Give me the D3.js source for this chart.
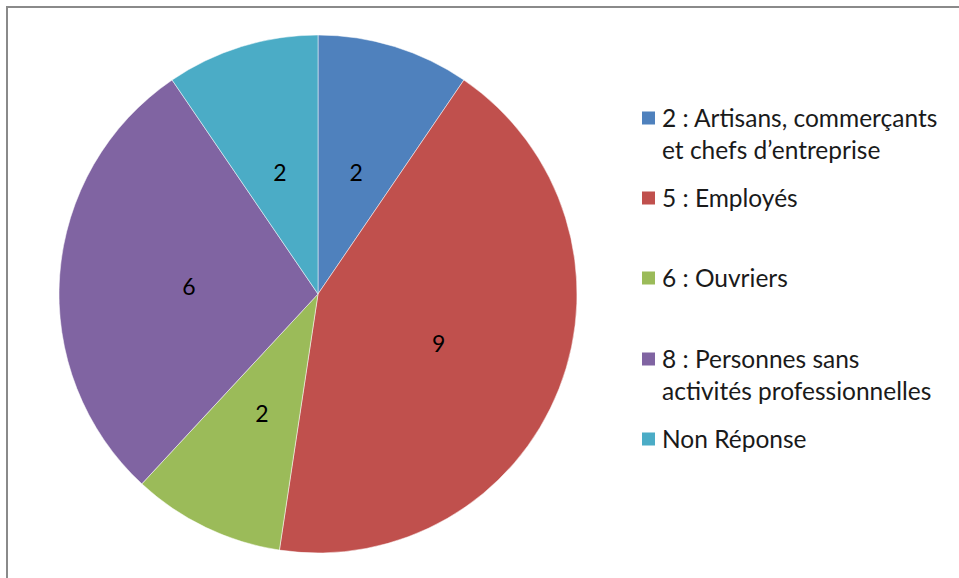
<!DOCTYPE html>
<html><head><meta charset="utf-8">
<script src="https://cdn.jsdelivr.net/npm/d3@7"></script>
<style>body{margin:0;background:#fff}svg{display:block}</style>
</head><body>
<svg id="c" width="959" height="578"></svg>
<script>
const categories = ["2 : Artisans, commerçants et chefs d\u2019entreprise", "5 : Employés", "6 : Ouvriers", "8 : Personnes sans activités professionnelles", "Non Réponse"];
const legendLines = [["2 : Artisans, commerçants", "et chefs d\u2019entreprise"], ["5 : Employés"], ["6 : Ouvriers"], ["8 : Personnes sans", "activités professionnelles"], ["Non Réponse"]];
const values = [2, 9, 2, 6, 2];
const colors = ["#4F81BD", "#C0504D", "#9BBB59", "#8064A2", "#4BACC6"];

const svg = d3.select("#c");
const font = "Lato, 'Open Sans', sans-serif";

// frame
svg.append("path").attr("d", "M7,578 V7 H959").attr("fill", "none").attr("stroke", "#8a8a8a").attr("stroke-width", 2);

const cx = 318, cy = 294, r = 259;
const pie = d3.pie().sort(null).value(d => d)(values);
const arc = d3.arc().innerRadius(0).outerRadius(r);
const g = svg.append("g").attr("transform", `translate(${cx},${cy})`);
g.selectAll("path").data(pie).join("path")
  .attr("d", arc).attr("fill", (d, i) => colors[i])
  .attr("stroke", "#fff").attr("stroke-width", 0.5);
g.selectAll("text").data(pie).join("text")
  .attr("transform", d => `translate(${arc.centroid(d)})`)
  .attr("text-anchor", "middle").attr("dy", "0.48em")
  .attr("font-family", font).attr("font-size", 23).attr("fill", "#000")
  .text(d => d.data);

// legend
const rowY = [118, 198, 278, 359, 439];
const lg = svg.append("g");
legendLines.forEach((lines, i) => {
  lg.append("rect").attr("x", 642).attr("y", rowY[i] - 6.5).attr("width", 13).attr("height", 13).attr("fill", colors[i]);
  lines.forEach((t, j) => {
    lg.append("text").attr("x", 662).attr("y", rowY[i] + j * 32).attr("dy", "0.35em")
      .attr("font-family", font).attr("font-size", 24.5).attr("fill", "#1a1a1a").text(t);
  });
});
</script>
</body></html>
